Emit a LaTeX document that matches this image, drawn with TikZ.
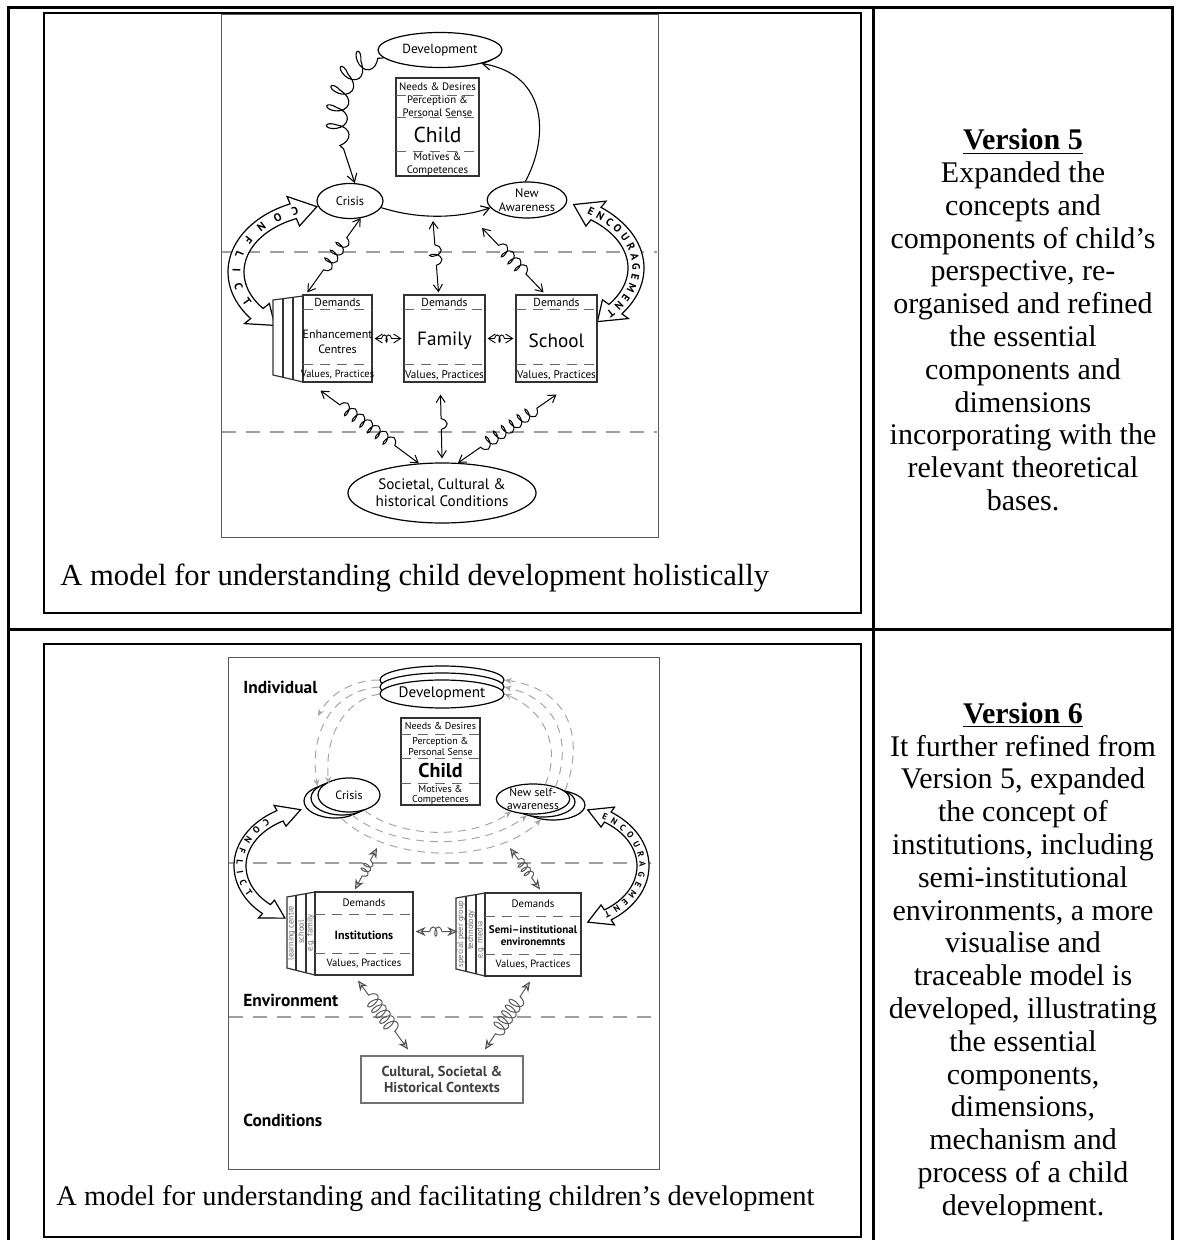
\documentclass[tikz,border=0pt]{standalone}
\usepackage{fontspec}
\setmainfont{Liberation Serif}
\newfontfamily\figfont{PT Sans}
\usetikzlibrary{shapes.geometric,decorations.pathmorphing,decorations.text,arrows.meta,calc}

\newcommand\fsz[1]{\fontsize{#1}{#1}\selectfont}

% hollow double-headed arrow bent along an elliptic arc
% #1,#2 centre  #3,#4 radii  #5,#6 tip angles  #7 head length (deg)  #8 half band  #9 half head
\newcommand\bentarrow[9]{%
  \pgfmathsetmacro\bentA{#5+#7}%
  \pgfmathsetmacro\bentB{#6-#7}%
  \filldraw[bent] plot[domain=0:1,samples=40] ({#1+(#3+#8)*cos(\bentA+(\bentB-\bentA)*\x)},{#2+(#4+#8)*sin(\bentA+(\bentB-\bentA)*\x)})
    -- ({#1+(#3+#9)*cos(\bentB)},{#2+(#4+#9)*sin(\bentB)})
    -- ({#1+#3*cos(#6)},{#2+#4*sin(#6)})
    -- ({#1+(#3-#9)*cos(\bentB)},{#2+(#4-#9)*sin(\bentB)})
    -- plot[domain=0:1,samples=40] ({#1+(#3-#8)*cos(\bentB+(\bentA-\bentB)*\x)},{#2+(#4-#8)*sin(\bentB+(\bentA-\bentB)*\x)})
    -- ({#1+(#3-#9)*cos(\bentA)},{#2+(#4-#9)*sin(\bentA)})
    -- ({#1+#3*cos(#5)},{#2+#4*sin(#5)})
    -- ({#1+(#3+#9)*cos(\bentA)},{#2+(#4+#9)*sin(\bentA)})
    -- cycle;}

% lettering set along the middle of such an arrow
% #1,#2 centre  #3,#4 radii  #5,#6 start/end angle  #7 text
\newcommand\arctext[7]{%
  \path[decorate,decoration={text along path,text={#7},text align={fit to path},raise=-1.8pt}]
    plot[domain=0:1,samples=60] ({#1+#3*cos(#5+(#6-#5)*\x)},{#2+#4*sin(#5+(#6-#5)*\x)});}

\tikzset{
  tableline/.style={line width=1.5pt,draw=black},
  frame/.style={line width=1.4pt,draw=black},
  figbox/.style={line width=0.5pt,draw=gray!70!black},
  fig/.style={inner sep=0pt,align=center,font=\figfont},
  bubble/.style={ellipse,draw=black,line width=0.6pt,fill=white,inner sep=0pt,align=center,font=\figfont},
  panel/.style={rectangle,draw=black!80,line width=0.6pt,fill=white,inner sep=0pt},
  panelline/.style={draw=black!80,line width=0.6pt},
  sep/.style={dash pattern=on 5pt off 3.5pt,draw=black!60,line width=0.5pt},
  zone/.style={dash pattern=on 7pt off 5pt,draw=gray!75,line width=0.6pt},
  bent/.style={draw=black,fill=white,line width=0.6pt},
  tipA/.style={{Straight Barb[length=3.5pt,width=4.5pt]}-{Straight Barb[length=3.5pt,width=4.5pt]}},
  tipE/.style={-{Straight Barb[length=4pt,width=5pt]}},
  coilA/.style={decorate,decoration={coil,aspect=0.5,segment length=4.8pt,amplitude=3pt,pre length=12pt,post length=12pt},line width=0.5pt},
  coilS/.style={decorate,decoration={coil,aspect=0.45,segment length=2.2pt,amplitude=1.8pt,pre length=3.5pt,post length=3.5pt},line width=0.45pt},
  coilB/.style={decorate,decoration={coil,aspect=0.6,segment length=8.5pt,amplitude=5pt,pre length=3pt,post length=18pt},line width=0.55pt},
  coilG/.style={decorate,decoration={coil,aspect=0.5,segment length=2.6pt,amplitude=2.3pt,pre length=7pt,post length=7pt},draw=black!65,line width=0.5pt},
  coilH/.style={decorate,decoration={coil,aspect=0.5,segment length=3.4pt,amplitude=3.6pt,pre length=9pt,post length=9pt},draw=black!65,line width=0.5pt},
  tipG/.style={{Stealth[length=5pt,width=4.5pt,fill=gray!45,color=gray!60!black]}-{Stealth[length=5pt,width=4.5pt,fill=gray!45,color=gray!60!black]}},
  ring/.style={draw=gray!70,dash pattern=on 4pt off 3pt,line width=0.5pt,-{Stealth[length=3.5pt,width=3pt,color=gray!70]}},
  coltext/.style={align=center,inner sep=0pt,font=\fontsize{15}{16.4}\selectfont},
  caption/.style={anchor=west,inner sep=0pt},
}

\begin{document}
\begin{tikzpicture}[x=0.5pt,y=-0.5pt]
\useasboundingbox (0,0) rectangle (1178,1240);

% ---------- table ----------
\draw[tableline] (8,1260) -- (8,8) -- (1172,8) -- (1172,1260);
\draw[tableline] (873,8) -- (873,1260);
\draw[tableline] (8,629) -- (1172,629);

% ================= upper model =================
\draw[frame] (44,13) rectangle (861,613);
\draw[figbox] (221,15) rectangle (658,537);
\draw[zone] (222,252) -- (657,252);
\draw[zone] (222,432) -- (657,432);

\bentarrow{330}{272}{94}{66}{126}{262}{15}{8}{16}
\arctext{330}{272}{94}{66}{250}{150}{|\figfont\bfseries\fsz{5.6}|CONFLICT}
\bentarrow{528}{268}{108}{70}{-65}{50}{14}{8}{16}
\arctext{528}{268}{108}{70}{-56}{42}{|\figfont\bfseries\fsz{5.4}|ENCOURAGEMENT}

\node[bubble,minimum width=62pt,minimum height=17.5pt,font=\figfont\fsz{6.6}] (dev) at (440,50) {Development};

\node[panel,minimum width=41.5pt,minimum height=49pt] (child) at (437.5,127) {};
\draw[sep] (396,96) -- (479,96);
\draw[sep] (396,118) -- (479,118);
\draw[sep] (396,152) -- (479,152);
\node[fig,font=\figfont\fsz{5.4}] (cneeds) at (437.5,87) {Needs \& Desires};
\node[fig,font=\figfont\fontsize{5.4}{6.3}\selectfont] (cperc) at (437.5,106.5) {Perception \&\\Personal Sense};
\node[fig,font=\figfont\fsz{10.8}] (cname) at (437.5,135) {Child};
\node[fig,font=\figfont\fontsize{5.4}{6.3}\selectfont] (cmot) at (437.5,164.5) {Motives \&\\Competences};

\node[bubble,minimum width=33pt,minimum height=17.5pt,font=\figfont\fsz{6.2}] (crisis) at (350,201) {Crisis};
\node[bubble,minimum width=35pt,minimum height=18pt,font=\figfont\fontsize{6.2}{6.8}\selectfont] (newaw) at (527,200) {New\\Awareness};

% institutions row
\draw[panelline,fill=white] (273,300) -- (303,296) -- (303,382) -- (273,375) -- cycle;
\draw[panelline] (283,298.7) -- (283,377.3) (293,297.3) -- (293,379.7);
\node[panel,minimum width=34.5pt,minimum height=43.5pt] (enh) at (337.5,338.5) {};
\node[panel,minimum width=40.5pt,minimum height=43.5pt] (fam) at (444.5,338.5) {};
\node[panel,minimum width=40.5pt,minimum height=43.5pt] (sch) at (556.5,338.5) {};
\draw[sep] (303,310) -- (372,310) (303,365) -- (372,365);
\draw[sep] (404,310) -- (485,310) (404,365) -- (485,365);
\draw[sep] (516,310) -- (597,310) (516,365) -- (597,365);
\node[fig,font=\figfont\fsz{5.8}] (enhdem) at (337.5,302) {Demands};
\node[fig,font=\figfont\fsz{5.8}] (famdem) at (444.5,302) {Demands};
\node[fig,font=\figfont\fsz{5.8}] (schdem) at (556.5,302) {Demands};
\node[fig,font=\figfont\fsz{5.2}] (enhval) at (337.5,375) {Values, Practices};
\node[fig,font=\figfont\fsz{5.6}] (famval) at (444.5,375) {Values, Practices};
\node[fig,font=\figfont\fsz{5.6}] (schval) at (556.5,375) {Values, Practices};
\node[fig,font=\figfont\fontsize{6}{7.2}\selectfont] (enhname) at (337.5,342) {Enhancement\\Centres};
\node[fig,font=\figfont\fsz{9.6}] (famname) at (444.5,341) {Family};
\node[fig,font=\figfont\fsz{9.6}] (schname) at (556.5,341) {School};

\node[bubble,minimum width=81pt,minimum height=30pt,font=\figfont\fontsize{7.6}{8.6}\selectfont] (soc) at (442,493) {Societal, Cultural \&\\historical Conditions};

% movement between the stages
\draw[coilB,tipE] (dev.188) .. controls (345,58) and (328,110) .. (344,150) .. controls (348,168) and (352,176) .. (crisis.75);
\draw[tipE,line width=0.55pt] (newaw.95) .. controls (548,140) and (550,75) .. (dev.-18);
\draw[tipE,line width=0.55pt] (crisis.-12) .. controls (420,220) and (460,218) .. (newaw.192);

% exchanges with the environment
\coordinate (famtop) at (433,221);
\coordinate (schtop) at (482,228);
\draw[coilA,tipA] (crisis.-58) -- ($(enh.north west)+(5,-2)$);
\draw[coilA,tipA] (famtop) -- ($(fam.north)+(-6,-2)$);
\draw[coilA,tipA] (schtop) -- ($(sch.north)+(-13,-2)$);
\draw[coilS,tipA] ($(enh.east)+(2,0)$) -- ($(fam.west)+(-2,0)$);
\draw[coilS,tipA] ($(fam.east)+(2,0)$) -- ($(sch.west)+(-2,0)$);
\draw[coilA,tipA] ($(enh.south)+(-17,8)$) -- (soc.128);
\draw[coilA,tipA] ($(fam.south)+(-4,12)$) -- ($(soc.north)+(0,-4)$);
\draw[coilA,tipA] ($(sch.south)+(0,12)$) -- (soc.62);

\node[caption,font=\fontsize{15.3}{16}\selectfont] (cap5) at (60,578) {A model for understanding child development holistically};

% ================= lower model =================
\draw[frame] (44,644) rectangle (861,1237);
\draw[figbox] (228,657) rectangle (659,1169);
\draw[zone] (229,863) -- (658,863);
\draw[zone] (229,1017) -- (658,1017);

\node[fig,anchor=west,font=\figfont\bfseries\fsz{8.7}] (lind) at (243,687) {Individual};
\node[fig,anchor=west,font=\figfont\bfseries\fsz{8.7}] (lenv) at (243,1000) {Environment};
\node[fig,anchor=west,font=\figfont\bfseries\fsz{8.7}] (lcon) at (243,1120) {Conditions};

\bentarrow{320}{866}{80}{58}{116}{256}{16}{6}{12}
\arctext{320}{866}{80}{58}{230}{150}{|\figfont\bfseries\fsz{4.6}|CONFLICT}
\bentarrow{563}{866}{80}{59}{-72}{72}{16}{6}{12}
\arctext{563}{866}{80}{59}{-60}{58}{|\figfont\bfseries\fsz{4.4}|ENCOURAGEMENT}

% stacked stage bubbles
\node[bubble,minimum width=62pt,minimum height=14pt] (devA) at (442,680) {};
\node[bubble,minimum width=62pt,minimum height=14pt] (devB) at (442,687) {};
\node[bubble,minimum width=62pt,minimum height=14pt,font=\figfont\fsz{7.6}] (devC) at (442,694) {Development};
\node[bubble,minimum width=31pt,minimum height=17pt] (crisisC) at (335,801) {};
\node[bubble,minimum width=31pt,minimum height=17pt] (crisisB) at (342,798) {};
\node[bubble,minimum width=31pt,minimum height=17pt,font=\figfont\fsz{6}] (crisisA) at (349,795) {Crisis};
\node[bubble,minimum width=32pt,minimum height=15pt] (newC) at (553,805) {};
\node[bubble,minimum width=32pt,minimum height=15pt] (newB) at (543,802) {};
\node[bubble,minimum width=32pt,minimum height=15pt,font=\figfont\fontsize{5.8}{6.4}\selectfont] (newA) at (533,799) {New self-\\awareness};

% dashed cycle of stages
\coordinate (ringend) at (318,716);
\draw[ring] (devC.west) .. controls (345,700) and (324,735) .. (crisisC.110);
\draw[ring] (devB.west) .. controls (335,690) and (308,730) .. (crisisC.140);
\draw[ring] (devA.west) .. controls (352,680) and (330,694) .. (ringend);
\draw[ring] (newA.50) .. controls (560,750) and (548,712) .. (devC.east);
\draw[ring] (newB.50) .. controls (572,745) and (560,700) .. (devB.east);
\draw[ring] (newC.50) .. controls (584,740) and (572,690) .. (devA.east);
\draw[ring] (crisisA.-45) .. controls (400,838) and (470,840) .. (newA.-150);
\draw[ring] (crisisB.-60) .. controls (395,850) and (480,850) .. (newB.-140);
\draw[ring] (crisisC.-70) .. controls (390,864) and (495,864) .. (newC.-130);

\node[panel,minimum width=39.5pt,minimum height=43.5pt] (child2) at (440.5,761.5) {};
\draw[sep] (401,734) -- (480,734);
\draw[sep] (401,758) -- (480,758);
\draw[sep] (401,783) -- (480,783);
\node[fig,font=\figfont\fsz{5}] (dneeds) at (440.5,726) {Needs \& Desires};
\node[fig,font=\figfont\fontsize{5}{5.2}\selectfont] (dperc) at (440.5,746.5) {Perception \&\\Personal Sense};
\node[fig,font=\figfont\bfseries\fsz{10}] (dname) at (440.5,770.5) {Child};
\node[fig,font=\figfont\fontsize{5}{5.2}\selectfont] (dmot) at (440.5,795) {Motives \&\\Competences};

% institutions and semi-institutional environments
\draw[panelline,fill=white] (287,897) -- (315,892) -- (315,975) -- (287,968) -- cycle;
\draw[panelline] (296,895.4) -- (296,970.3) (306,893.6) -- (306,972.8);
\draw[panelline,fill=white] (456,898) -- (485,893) -- (485,976) -- (456,969) -- cycle;
\draw[panelline] (466,896.3) -- (466,971.4) (476,894.6) -- (476,973.8);
\node[fig,rotate=90,font=\figfont\fsz{4.2},text=black!60] (pg1) at (291.5,933) {learning centre};
\node[fig,rotate=90,font=\figfont\fsz{4.2},text=black!60] (pg2) at (301,932) {school};
\node[fig,rotate=90,font=\figfont\fsz{4.2},text=black!60] (pg3) at (310.5,933) {e.g. family};
\node[fig,rotate=90,font=\figfont\fsz{4.2},text=black!60] (pg4) at (461,934) {special peer group};
\node[fig,rotate=90,font=\figfont\fsz{4.2},text=black!60] (pg5) at (471,930) {technology};
\node[fig,rotate=90,font=\figfont\fsz{4.2},text=black!60] (pg6) at (480.5,940) {e.g. media};

\node[panel,minimum width=49pt,minimum height=41.5pt] (inst) at (364,933.5) {};
\node[panel,minimum width=48pt,minimum height=41.5pt] (semi) at (533,934.5) {};
\draw[sep] (315,914) -- (413,914) (315,953) -- (413,953);
\draw[sep] (485,916) -- (581,916) (485,954) -- (581,954);
\node[fig,font=\figfont\fsz{5.4}] (instdem) at (364,903) {Demands};
\node[fig,font=\figfont\fsz{5.4}] (semidem) at (533,904) {Demands};
\node[fig,font=\figfont\bfseries\fsz{6}] (instname) at (364,935) {Institutions};
\node[fig,font=\figfont\bfseries\fontsize{5.5}{6}\selectfont] (seminame) at (533,936) {Semi–institutional\\environemnts};
\node[fig,font=\figfont\fsz{5.3}] (instval) at (364,964) {Values, Practices};
\node[fig,font=\figfont\fsz{5.3}] (semival) at (533,965) {Values, Practices};

\node[panel,draw=black!55,minimum width=81pt,minimum height=23.5pt,align=center,text=black!75,font=\figfont\bfseries\fontsize{7.2}{8}\selectfont] (cult) at (442,1079.5) {Cultural, Societal \&\\Historical Contexts};

% exchanges between levels
\coordinate (q1) at (377,848);
\coordinate (q2) at (510,848);
\draw[coilG,tipG] (q1) -- ($(inst.north)+(-9,-2)$);
\draw[coilG,tipG] (q2) -- ($(semi.north)+(7,-3)$);
\draw[coilG,tipG] ($(inst.east)+(2,-2)$) -- ($(semi.west)+(-27,-3)$);
\draw[coilH,tipG] ($(inst.south)+(-6,5)$) -- ($(cult.north)+(-34,-6)$);
\draw[coilH,tipG] ($(semi.south)+(-3,5)$) -- ($(cult.north)+(43,-6)$);

\node[caption,font=\fontsize{14.2}{16}\selectfont] (cap6) at (56,1199) {A model for understanding and facilitating children’s development};

% ================= right column =================
\node[coltext] (v5) at (1023,320) {\underline{\textbf{Version 5}}\\Expanded the\\concepts and\\components of child’s\\perspective, re-\\organised and refined\\the essential\\components and\\dimensions\\incorporating with the\\relevant theoretical\\bases.};
\node[coltext] (v6) at (1023,962) {\underline{\textbf{Version 6}}\\It further refined from\\Version 5, expanded\\the concept of\\institutions, including\\semi-institutional\\environments, a more\\visualise and\\traceable model is\\developed, illustrating\\the essential\\components,\\dimensions,\\mechanism and\\process of a child\\development.};
\end{tikzpicture}
\end{document}
